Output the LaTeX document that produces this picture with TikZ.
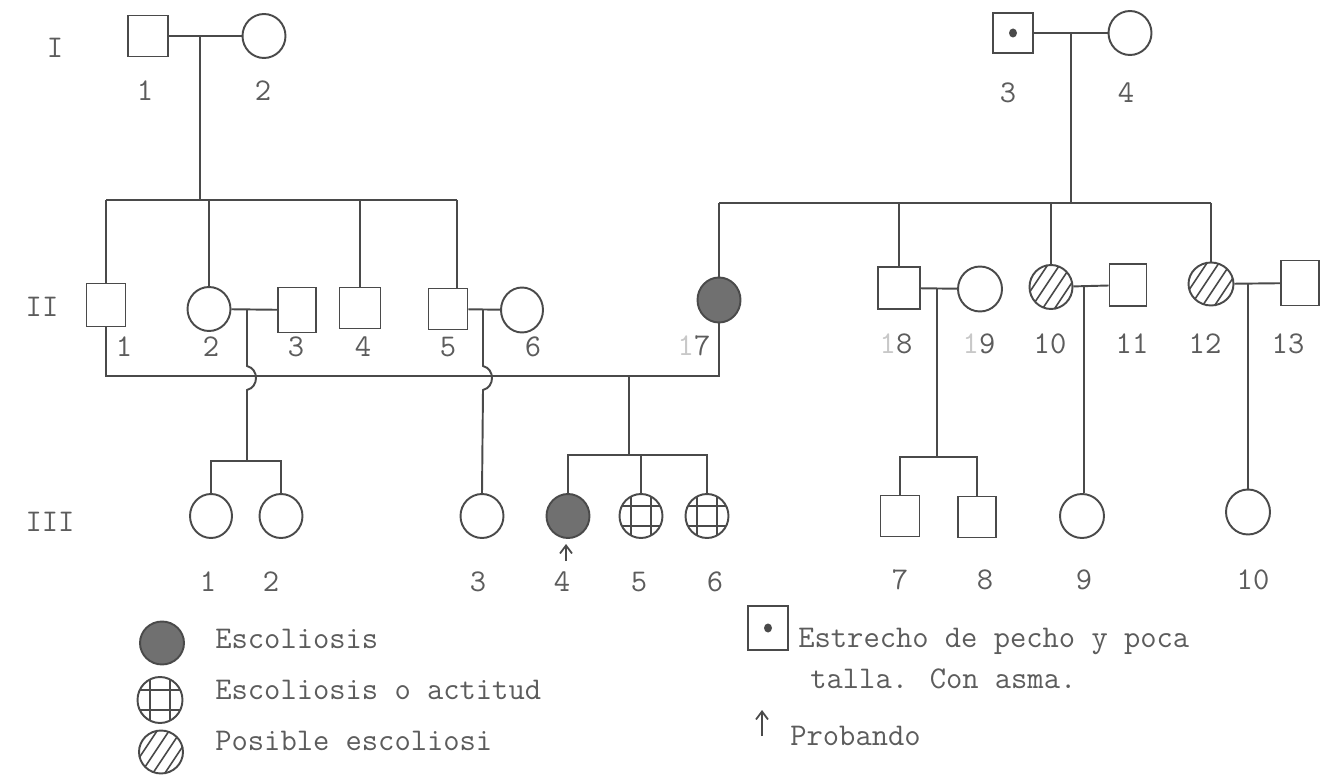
\documentclass[tikz,border=0pt]{standalone}
\usepackage{fontspec}
\usetikzlibrary{shapes.geometric,arrows.meta}
\definecolor{ink}{HTML}{4A4A4A}
\definecolor{txt}{HTML}{5C5C5C}
\definecolor{shade}{HTML}{707070}
\definecolor{faint}{HTML}{C8C8C8}
\begin{document}
\begin{tikzpicture}[x=0.02cm,y=-0.02cm,
  ln/.style={draw=ink, line width=1.1pt},
  sq/.style={rectangle, draw=ink, line width=1.1pt, inner sep=0pt, minimum width=0.8cm, minimum height=0.82cm},
  circ/.style={ellipse, draw=ink, line width=1.1pt, inner sep=0pt, minimum width=0.86cm, minimum height=0.88cm},
  aff/.style={circ, fill=shade},
  hatch/.style={circ, path picture={\foreach \d in {-0.36,-0.12,0.12,0.36}{\draw[ink, line width=0.9pt] ([xshift=\d cm]path picture bounding box.center) ++(-0.32cm,-0.48cm) -- ++(0.64cm,0.96cm);}}},
  grid/.style={circ, path picture={\foreach \d in {-0.2,0.2}{\draw[ink, line width=0.9pt] ([xshift=\d cm]path picture bounding box.center) ++(0,-0.5cm) -- ++(0,1cm); \draw[ink, line width=0.9pt] ([yshift=\d cm]path picture bounding box.center) ++(-0.5cm,0) -- ++(1cm,0);}}},
  lbl/.style={text=txt, font=\ttfamily\fontsize{18}{21}\selectfont, inner sep=0pt},
  leg/.style={lbl, anchor=base west},
  arr/.style={draw=ink, line width=1pt, -{Straight Barb[length=1.6mm,width=2.4mm]}}
]
\useasboundingbox (0,0) rectangle (1320,777);
\fill[white] (0,0) rectangle (1320,777);

% ---------- Generation labels
\node[lbl] (gI) at (55,48) {I};
\node[lbl] (gII) at (42,307) {II};
\node[lbl] (gIII) at (50,522) {III};

% ---------- Generation I
\node[sq] (I1) at (148,36) {};
\node[circ] (I2) at (264,36) {};
\node[sq, minimum height=0.8cm] (I3) at (1013,33) {};
\fill[ink] (I3.center) ellipse (0.08cm and 0.09cm);
\node[circ] (I4) at (1130,33) {};
\draw[ln] (I1) -- (I2);
\draw[ln] (I3) -- (I4);
\node[lbl] (lI1) at (145,91) {1};
\node[lbl] (lI2) at (263,91) {2};
\node[lbl] (lI3) at (1008,93) {3};
\node[lbl] (lI4) at (1126,93) {4};
\coordinate (mI12) at (200,36);
\coordinate (mI34) at (1071,33);

% ---------- Generation II
\node[sq, minimum width=0.78cm, minimum height=0.86cm] (II1) at (106,305) {};
\node[circ] (II2) at (209,309) {};
\node[sq, minimum width=0.76cm, minimum height=0.9cm] (II3) at (297,310) {};
\node[sq, minimum width=0.82cm] (II4) at (360,308) {};
\node[sq, minimum width=0.78cm] (II5) at (448,309) {};
\node[circ, minimum width=0.84cm, minimum height=0.9cm] (II6) at (522,310) {};
\node[aff, minimum height=0.9cm] (II7) at (719,300) {};
\node[sq, minimum width=0.84cm, minimum height=0.84cm] (II8) at (899,288) {};
\node[circ, minimum width=0.88cm, minimum height=0.9cm] (II9) at (980,289) {};
\node[hatch] (II10) at (1051,287) {};
\node[sq, minimum width=0.74cm, minimum height=0.84cm] (II11) at (1128,285) {};
\node[hatch, minimum width=0.9cm, minimum height=0.86cm] (II12) at (1211,284) {};
\node[sq, minimum width=0.76cm, minimum height=0.9cm] (II13) at (1300,283) {};

\node[lbl] (lII1) at (124,347) {1};
\node[lbl] (lII2) at (211,347) {2};
\node[lbl] (lII3) at (296,347) {3};
\node[lbl] (lII4) at (363,347) {4};
\node[lbl] (lII5) at (448,347) {5};
\node[lbl] (lII6) at (533,347) {6};
\node[lbl] (lII7) at (694,346) {\textcolor{faint}{1}7};
\node[lbl] (lII8) at (896,344) {\textcolor{faint}{1}8};
\node[lbl] (lII9) at (979,344) {\textcolor{faint}{1}9};
\node[lbl] (lII10) at (1050,344) {10};
\node[lbl] (lII11) at (1132,344) {11};
\node[lbl] (lII12) at (1205,344) {12};
\node[lbl] (lII13) at (1288,344) {13};

% sibship of I-1 x I-2
\coordinate (sA1) at (106,200);
\coordinate (sA2) at (209,200);
\coordinate (sA3) at (360,200);
\coordinate (sA4) at (457,200);
\coordinate (sAm) at (200,200);
\draw[ln] (mI12) -- (sAm);
\draw[ln] (sA1) -- (sA4);
\draw[ln] (sA1) -- (II1.north);
\draw[ln] (sA2) -- (II2.north);
\draw[ln] (sA3) -- (II4.north);
\draw[ln] (sA4) -- (sA4|-II5.north);

% sibship of I-3 x I-4
\coordinate (sB1) at (719,203);
\coordinate (sB2) at (899,203);
\coordinate (sB3) at (1051,203);
\coordinate (sB4) at (1211,203);
\coordinate (sBm) at (1071,203);
\draw[ln] (mI34) -- (sBm);
\draw[ln] (sB1) -- (sB4);
\draw[ln] (sB1) -- (II7.north);
\draw[ln] (sB2) -- (II8.north);
\draw[ln] (sB3) -- (II10.north);
\draw[ln] (sB4) -- (II12.north);

% marriages in generation II
\draw[ln] (II2) -- (II3);
\draw[ln] (II5) -- (II6);
\draw[ln] (II8) -- (II9);
\draw[ln] (II10) -- (II11);
\draw[ln] (II12) -- (II13);
\coordinate (m23) at (247,310);
\coordinate (m56) at (483,309);
\coordinate (m89) at (937,288);
\coordinate (m1011) at (1084,286);
\coordinate (m1213) at (1248,284);

% II-1 x II-7 mating line
\coordinate (sC1) at (106,376);
\coordinate (sC2) at (719,376);
\coordinate (sCm) at (629,376);
\draw[ln] (II1.south) -- (sC1) -- (sC2) -- (II7.south);

% ---------- Generation III
\node[circ, minimum width=0.84cm] (III1) at (211,516) {};
\node[circ, minimum width=0.86cm] (III2) at (281,516) {};
\node[circ] (III3) at (482,516) {};
\node[aff] (III4) at (568,516) {};
\node[grid] (III5) at (641,516) {};
\node[grid] (III6) at (707,516) {};
\node[sq, minimum width=0.78cm] (III7) at (900,516) {};
\node[sq, minimum width=0.76cm] (III8) at (977,517) {};
\node[circ, minimum width=0.88cm] (III9) at (1082,516) {};
\node[circ, minimum width=0.88cm, minimum height=0.9cm] (III10) at (1248,512) {};

\node[lbl] (lIII1) at (208,582) {1};
\node[lbl] (lIII2) at (271,582) {2};
\node[lbl] (lIII3) at (478,582) {3};
\node[lbl] (lIII4) at (562,582) {4};
\node[lbl] (lIII5) at (639,582) {5};
\node[lbl] (lIII6) at (715,582) {6};
\node[lbl] (lIII7) at (900,580) {7};
\node[lbl] (lIII8) at (985,580) {8};
\node[lbl] (lIII9) at (1084,580) {9};
\node[lbl] (lIII10) at (1253,580) {10};

% II-2 x II-3 -> III-1, III-2 (with hop over the mating line)
\coordinate (t1) at (247,461);
\coordinate (h1a) at (247,366);
\coordinate (h1b) at (247,390);
\draw[ln] (m23) -- (h1a) .. controls (259,369) and (259,387) .. (h1b) -- (t1);
\draw[ln] (III1.north) -- (III1.north|-t1) -- (III2.north|-t1) -- (III2.north);

% II-5 x II-6 -> III-3 (with hop)
\coordinate (h2a) at (483,366);
\coordinate (h2b) at (483,390);
\draw[ln] (m56) -- (h2a) .. controls (495,369) and (495,387) .. (h2b) -- (III3.north);

% II-1 x II-7 -> III-4, III-5, III-6
\coordinate (t2) at (629,455);
\draw[ln] (sCm) -- (t2);
\draw[ln] (III4.north) -- (III4.north|-t2) -- (III6.north|-t2) -- (III6.north);
\draw[ln] (III5.north|-t2) -- (III5.north);

% II-8 x II-9 -> III-7, III-8
\coordinate (t3) at (937,457);
\draw[ln] (m89) -- (t3);
\draw[ln] (III7.north) -- (III7.north|-t3) -- (III8.north|-t3) -- (III8.north);

% II-10 x II-11 -> III-9 ; II-12 x II-13 -> III-10
\draw[ln] (m1011) -- (m1011|-III9.north);
\draw[ln] (m1213) -- (m1213|-III10.north);

% probando arrow
\coordinate (pb) at (566,561);
\draw[arr] (pb) -- ++(0,-17);

% ---------- Legend
\node[aff, minimum width=0.88cm, minimum height=0.86cm] (Laff) at (162,643) {};
\node[grid, minimum width=0.9cm, minimum height=0.92cm] (Lgrid) at (160,700) {};
\node[hatch, minimum width=0.88cm, minimum height=0.86cm] (Lhatch) at (161,752) {};
\node[leg] (tLaff) at (215,648) {Escoliosis};
\node[leg] (tLgrid) at (215,699) {Escoliosis o actitud};
\node[leg] (tLhatch) at (215,750) {Posible escoliosi};

\node[sq, minimum width=0.8cm, minimum height=0.88cm] (Lsq) at (768,628) {};
\fill[ink] (Lsq.center) ellipse (0.08cm and 0.09cm);
\node[leg] (tLsq1) at (798,647) {Estrecho de pecho y poca};
\node[leg] (tLsq2) at (810,688) {talla. Con asma.};
\coordinate (La) at (762,736);
\draw[arr] (La) -- ++(0,-26);
\node[leg] (tLa) at (790,745) {Probando};
\end{tikzpicture}
\end{document}
